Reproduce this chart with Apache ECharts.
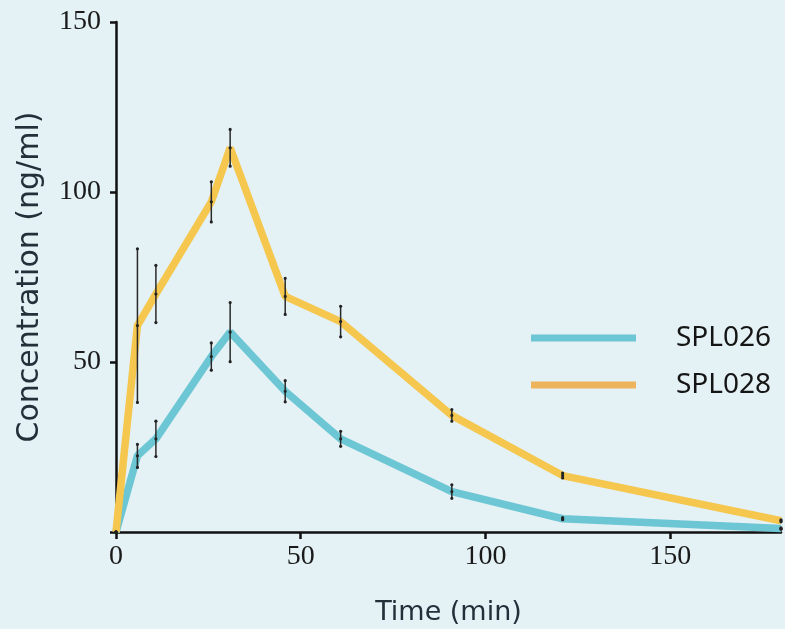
<!DOCTYPE html>
<html>
<head>
<meta charset="utf-8">
<script src="https://cdn.jsdelivr.net/npm/echarts@6/dist/echarts.min.js"></script>
<style>
  html, body { margin: 0; padding: 0; background: #e4f1f5; }
  #chart { width: 785px; height: 629px; }
</style>
</head>
<body>
<div id="chart"></div>
<script>
// sampling times (min)
const times = [0, 5.8, 10.8, 25.8, 30.9, 45.8, 60.8, 90.9, 120.9, 180];

// SPL026: mean and +/- error
const spl026 = [0, 22.4, 27.4, 51.6, 58.8, 41.4, 27.4, 11.9, 3.9, 1.0];
const spl026Err = [0, 3.4, 5.2, 4.0, 8.7, 3.1, 2.2, 2.0, 0.3, 0.2];

// SPL028: mean and +/- error
const spl028 = [0, 60.7, 70.0, 97.1, 113.0, 69.3, 61.9, 34.3, 16.6, 3.3];
const spl028Err = [0, 22.6, 8.4, 5.9, 5.4, 5.3, 4.5, 1.7, 0.7, 0.3];

const xTicks = [0, 50, 100, 150];
const yTicks = [0, 50, 100, 150];
const yLabels = [50, 100, 150];

const blue = "#6cc6d4";
const orange = "#f5c74f";
const orangeLegend = "#eeb45b";

const pairs = (ys) => times.map((t, i) => [t, ys[i]]);
const errRows = (ys, es) => times.map((t, i) => [t, ys[i], ys[i] - es[i], ys[i] + es[i]]);

// vertical error bar with small dots at both ends and at the mean
function renderErr(params, api) {
  const top = api.coord([api.value(0), api.value(3)]);
  const bot = api.coord([api.value(0), api.value(2)]);
  const mid = api.coord([api.value(0), api.value(1)]);
  const dot = (p) => ({
    type: "circle",
    shape: { cx: p[0], cy: p[1], r: 1.6 },
    style: { fill: "#222" }
  });
  return {
    type: "group",
    children: [
      {
        type: "line",
        shape: { x1: top[0], y1: top[1], x2: bot[0], y2: bot[1] },
        style: { stroke: "#2a2a2a", lineWidth: 1.5 }
      },
      dot(top), dot(bot), dot(mid)
    ]
  };
}

const serifLabel = {
  fontFamily: "Liberation Serif",
  fontSize: 28,
  color: "#1a1a1a"
};
const nameFont = {
  fontFamily: "DejaVu Sans",
  fontWeight: "normal",
  color: "#22303a"
};

const chart = echarts.init(document.getElementById("chart"));
chart.setOption({
  backgroundColor: "#e4f1f5",
  animation: false,
  grid: { left: 116, right: 4, top: 22, bottom: 97, outerBoundsMode: "none" },
  legend: {
    orient: "vertical",
    left: 526,
    top: 319,
    icon: "rect",
    itemWidth: 105,
    itemHeight: 7,
    itemGap: 19,
    textStyle: {
      fontFamily: "Noto Sans",
      fontSize: 28,
      color: "#151515",
      padding: [0, 0, 0, 35]
    },
    data: [
      { name: "SPL026", itemStyle: { color: blue } },
      { name: "SPL028", itemStyle: { color: orangeLegend } }
    ]
  },
  xAxis: {
    type: "value",
    min: 0,
    max: 180,
    name: "Time (min)",
    nameLocation: "middle",
    nameGap: 67,
    nameTextStyle: { ...nameFont, fontSize: 27 },
    axisLine: { lineStyle: { color: "#111", width: 2.5 } },
    axisTick: { customValues: xTicks, length: 7, lineStyle: { color: "#111", width: 2.5 } },
    axisLabel: { customValues: xTicks, margin: 11, ...serifLabel },
    splitLine: { show: false }
  },
  yAxis: {
    type: "value",
    min: 0,
    max: 150,
    interval: 50,
    name: "Concentration (ng/ml)",
    nameLocation: "middle",
    nameGap: 71,
    nameTextStyle: { ...nameFont, fontSize: 30 },
    axisLine: { show: true, lineStyle: { color: "#111", width: 2.5 } },
    axisTick: { show: true, customValues: yTicks, length: 6, lineStyle: { color: "#111", width: 2.5 } },
    axisLabel: { customValues: yLabels, margin: 15, ...serifLabel },
    splitLine: { show: false }
  },
  series: [
    {
      name: "SPL026",
      type: "line",
      data: pairs(spl026),
      showSymbol: false,
      clip: false,
      color: blue,
      lineStyle: { color: blue, width: 7.5 },
      z: 2
    },
    {
      name: "SPL028",
      type: "line",
      data: pairs(spl028),
      showSymbol: false,
      clip: false,
      color: orange,
      lineStyle: { color: orange, width: 7.5 },
      z: 2
    },
    {
      type: "custom",
      data: errRows(spl026, spl026Err),
      renderItem: renderErr,
      encode: { x: 0, y: [1, 2, 3] },
      clip: false,
      z: 5
    },
    {
      type: "custom",
      data: errRows(spl028, spl028Err),
      renderItem: renderErr,
      encode: { x: 0, y: [1, 2, 3] },
      clip: false,
      z: 5
    }
  ]
});
</script>
</body>
</html>
